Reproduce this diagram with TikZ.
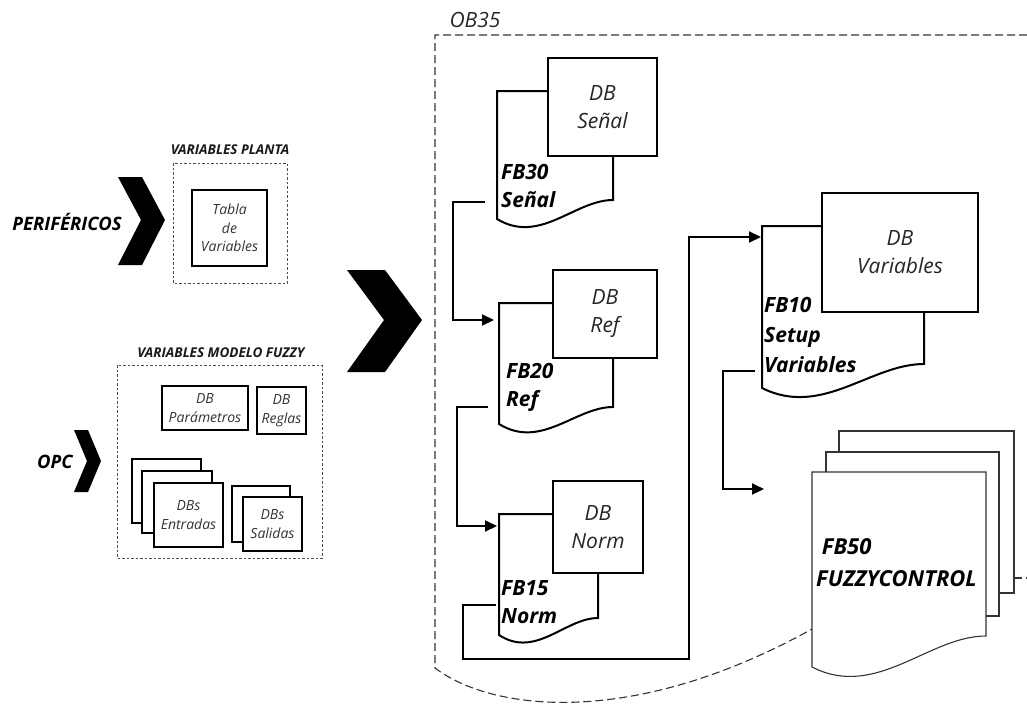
\documentclass[tikz,border=0pt]{standalone}
\usepackage{fontspec}
\setmainfont{Open Sans}
\usetikzlibrary{arrows.meta}
\newcommand\docshape[7]{% style, l, t, r, yr, yl, dip
  \filldraw[#1] (#2,#6) -- (#2,#3) -- (#4,#3) -- (#4,#5)
    .. controls ({#4-0.33*(#4-#2)},#5) and ({#2+0.37*(#4-#2)},{#6+#7}) .. (#2,#6) -- cycle;}
\begin{document}
\begin{tikzpicture}[x=1pt,y=-1pt,
  dbbox/.style={draw, line width=2pt, fill=white, inner sep=0pt, align=center,
     font=\fontsize{21}{28}\selectfont\itshape, text=black!85},
  docline/.style={line width=2pt, fill=white},
  fblabel/.style={anchor=west, align=left, inner sep=0pt,
     font=\fontsize{21}{28}\selectfont\bfseries\itshape},
  conn/.style={line width=2pt, -{Triangle[length=12pt,width=11pt]}},
  smallbox/.style={draw, line width=1.4pt, fill=white, inner sep=0pt, align=center,
     font=\fontsize{14}{18.5}\selectfont\itshape, text=black!80},
  dashbox/.style={draw=black!70, line width=0.9pt, dash pattern=on 2.5pt off 2pt},
  grouptitle/.style={font=\fontsize{13.5}{15}\selectfont\bfseries\itshape, inner sep=0pt, text=black!90},
  obline/.style={draw=black!80, line width=1.1pt, dash pattern=on 8pt off 4pt},
  sheet/.style={draw=black!80, line width=1.1pt, fill=white},
  chev/.style={fill=black}
]
\useasboundingbox (0,0) rectangle (1027,704);

% ---------- left side ----------
\fill[chev] (118,177) -- (142,177) -- (165,220) -- (142,265) -- (118,265) -- (141,220) -- cycle;
\node[font=\fontsize{18.5}{20}\selectfont\bfseries\itshape, inner sep=0pt] (perif) at (67,222) {PERIFÉRICOS};

\draw[dashbox] (173,163) rectangle (287,283);
\node[grouptitle] (tplanta) at (230,150) {VARIABLES PLANTA};
\node[smallbox, minimum width=75pt, minimum height=76pt] (tabla) at (229.5,228) {Tabla\\de\\Variables};

\fill[chev] (74,430) -- (88,430) -- (101,461) -- (88,492) -- (74,492) -- (87,461) -- cycle;
\node[font=\fontsize{18.5}{20}\selectfont\bfseries\itshape, inner sep=0pt] (opc) at (55,462) {OPC};

\draw[dashbox] (117,365) rectangle (322,558);
\node[grouptitle] (tfuzzy) at (221,353) {VARIABLES MODELO FUZZY};
\node[smallbox, minimum width=86pt, minimum height=44pt] (dbpar) at (205,408) {DB\\Parámetros};
\node[smallbox, minimum width=49pt, minimum height=47pt] (dbreg) at (281.5,410.5) {DB\\Reglas};
\node[smallbox, minimum width=69pt, minimum height=64pt] (ent1) at (166.5,491) {};
\node[smallbox, minimum width=70pt, minimum height=62pt] (ent2) at (177,502) {};
\node[smallbox, minimum width=69pt, minimum height=64pt] (ent3) at (188.5,515) {DBs\\Entradas};
\node[smallbox, minimum width=58pt, minimum height=56pt] (sal1) at (261,514) {};
\node[smallbox, minimum width=59pt, minimum height=54pt] (sal2) at (272.5,524) {DBs\\Salidas};

\fill[chev] (347,270) -- (385,270) -- (422,320) -- (385,372) -- (347,372) -- (384,320) -- cycle;

% ---------- OB35 ----------
\node[font=\fontsize{21}{24}\selectfont\itshape, text=black!85, inner sep=0pt] (ob35) at (475,20) {OB35};
\draw[obline] (1027,35) -- (435,35) -- (435,668) .. controls (490,710) and (630,730) .. (812,629);
\draw[obline] (1014,578) -- (1027,578);

% FB30
\docshape{docline}{497}{91}{613}{200}{219}{26}
\node[dbbox, minimum width=109pt, minimum height=98pt] (dbsenal) at (602.5,107) {DB\\Señal};
\node[fblabel] (fb30) at (501,186) {FB30\\Señal};
% FB20
\docshape{docline}{499}{303}{613}{407}{424}{26}
\node[dbbox, minimum width=104pt, minimum height=88pt] (dbref) at (605,314) {DB\\Ref};
\node[fblabel] (fb20) at (506,387) {FB20\\Ref};
% FB15
\docshape{docline}{499}{514}{598}{618}{635}{24}
\node[dbbox, minimum width=90pt, minimum height=92pt] (dbnorm) at (598,527) {DB\\Norm};
\node[fblabel] (fb15) at (501,602) {FB15\\Norm};
% FB10
\docshape{docline}{762}{226}{924}{364}{388}{30}
\node[dbbox, minimum width=156pt, minimum height=119pt] (dbvar) at (900,252.5) {DB\\Variables};
\node[fblabel, font=\fontsize{21}{30}\selectfont\bfseries\itshape] (fb10) at (764,335) {FB10\\Setup\\Variables};
% FB50
\filldraw[sheet] (839,431) rectangle (1014,593);
\filldraw[sheet] (826,452) rectangle (999,616);
\docshape{sheet}{812}{472}{986}{636}{667}{33}
\node[fblabel, font=\fontsize{22}{32}\selectfont\bfseries\itshape] (fb50) at (816,563) {~FB50\\FUZZYCONTROL};

% ---------- connectors ----------
\coordinate (fb30out) at (485,202);
\coordinate (fb20in) at (494,320);
\coordinate (fb20out) at (488,407);
\coordinate (fb15in) at (497,526);
\coordinate (fb15out) at (496,605);
\coordinate (fb10in) at (761,237);
\coordinate (fb10out) at (755,371);
\coordinate (fb50in) at (764,489);
\coordinate (bendA) at (689,659);

\draw[conn] (fb30out) -- ++(-32,0) |- (fb20in);
\draw[conn] (fb20out) -- ++(-31,0) |- (fb15in);
\draw[conn] (fb15out) -- ++(-33,0) |- (bendA) |- (fb10in);
\draw[conn] (fb10out) -- ++(-32,0) |- (fb50in);
\end{tikzpicture}
\end{document}
